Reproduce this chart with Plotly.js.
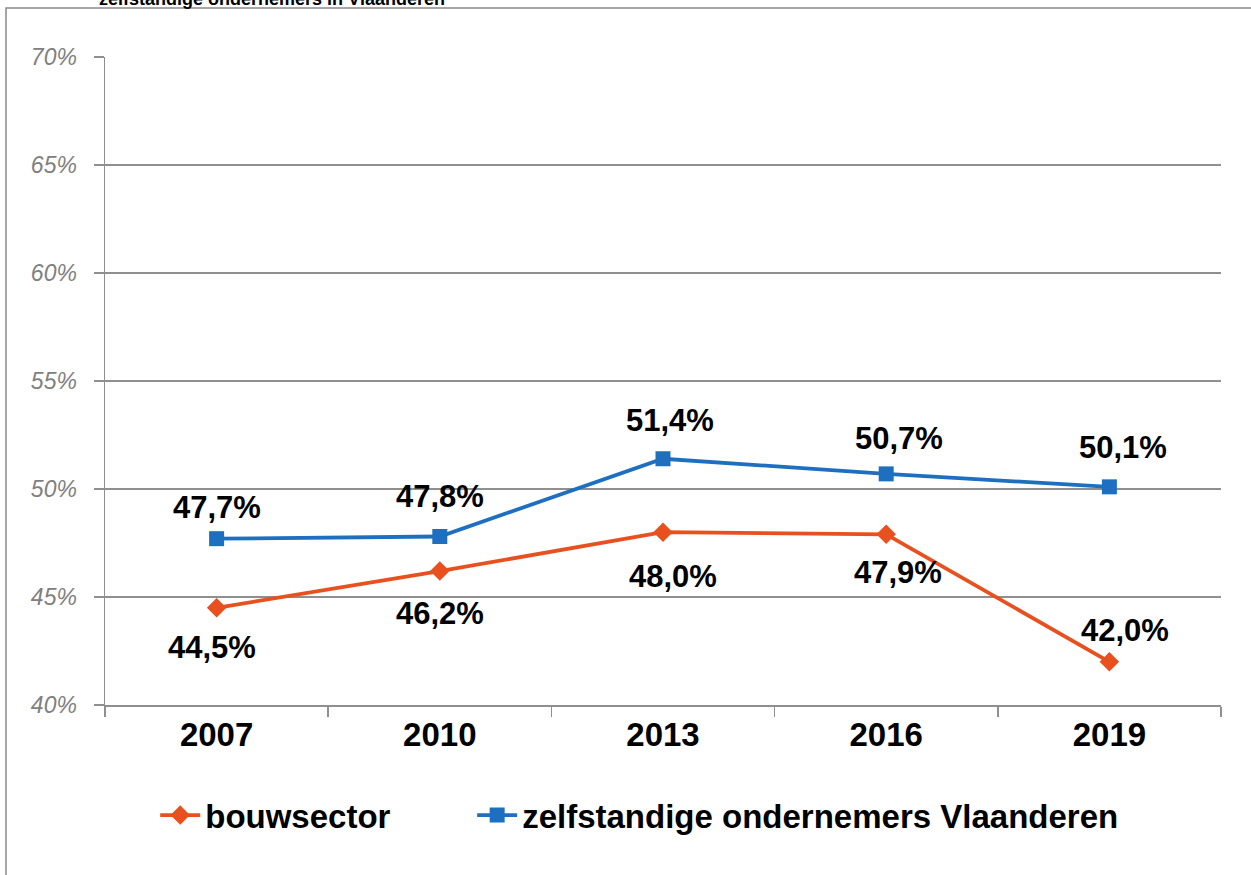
<!DOCTYPE html>
<html>
<head>
<meta charset="utf-8">
<script src="https://cdn.plot.ly/plotly-3.0.1.min.js"></script>
<style>html,body{margin:0;padding:0;background:#fff;}#chart{width:1251px;height:875px;}</style>
</head>
<body>
<div id="chart"></div>
<script>
// ---- data ----
var years = ['2007', '2010', '2013', '2016', '2019'];
var bouwsector = [44.5, 46.2, 48.0, 47.9, 42.0];
var zelfstandigen = [47.7, 47.8, 51.4, 50.7, 50.1];
var seriesNames = ['bouwsector', 'zelfstandige ondernemers Vlaanderen'];
var titleText = 'zelfstandige ondernemers in Vlaanderen';

// ---- styles ----
var orange = '#E8501F';
var blue = '#1F6FC0';
var gridGray = '#8f8f8f';
var fontFam = '"Liberation Sans", Arial, sans-serif';
var bouwShiftY = [-40, -42, -44, -38, 31];
var bouwShiftX = [-5, 0, 10, 12, 16];
var zelfShiftY = [31, 40, 38, 35, 39];
var zelfShiftX = [0, 0, 7, 13, 14];

function fmt(v) { return v.toFixed(1).replace('.', ',') + '%'; }

var traces = [
  {
    x: years, y: bouwsector, name: seriesNames[0], type: 'scatter', mode: 'lines+markers',
    line: {color: orange, width: 3.8},
    marker: {symbol: 'diamond', size: 15, color: orange},
    legend: 'legend',
    hoverinfo: 'skip'
  },
  {
    x: years, y: zelfstandigen, name: seriesNames[1], type: 'scatter', mode: 'lines+markers',
    line: {color: blue, width: 3.8},
    marker: {symbol: 'square', size: 15, color: blue},
    legend: 'legend2',
    hoverinfo: 'skip'
  }
];

var annotations = [];
years.forEach(function (yr, i) {
  annotations.push({x: i, y: bouwsector[i], xref: 'x', yref: 'y', text: fmt(bouwsector[i]),
    showarrow: false, xshift: bouwShiftX[i], yshift: bouwShiftY[i],
    font: {family: fontFam, size: 31, color: '#000', weight: 'bold'}});
  annotations.push({x: i, y: zelfstandigen[i], xref: 'x', yref: 'y', text: fmt(zelfstandigen[i]),
    showarrow: false, xshift: zelfShiftX[i], yshift: zelfShiftY[i],
    font: {family: fontFam, size: 31, color: '#000', weight: 'bold'}});
});
annotations.push({x: 0.15, y: 1.089, xref: 'paper', yref: 'paper', text: titleText,
  showarrow: false, xanchor: 'center', yanchor: 'middle',
  font: {family: fontFam, size: 18, color: '#000', weight: 'bold'}});

var legendFont = {family: fontFam, size: 33, color: '#000', weight: 'bold'};

var layout = {
  width: 1251, height: 875,
  margin: {l: 105, r: 30, t: 57, b: 170, pad: 0},
  paper_bgcolor: '#fff', plot_bgcolor: '#fff',
  showlegend: true,
  legend: {
    orientation: 'h', x: 0.045, xanchor: 'left', y: -0.17, yanchor: 'middle',
    font: legendFont, itemwidth: 40, bgcolor: 'rgba(0,0,0,0)'
  },
  legend2: {
    orientation: 'h', x: 0.329, xanchor: 'left', y: -0.17, yanchor: 'middle',
    font: legendFont, itemwidth: 40, bgcolor: 'rgba(0,0,0,0)'
  },
  xaxis: {
    type: 'category', categoryorder: 'array', categoryarray: years,
    range: [-0.5, years.length - 0.5], autorange: false,
    tickson: 'boundaries', ticks: 'outside', ticklen: 10,
    tickcolor: gridGray, tickwidth: 1.5, tickangle: 0,
    showline: true, linecolor: gridGray, linewidth: 1.5,
    showgrid: false, zeroline: false,
    tickfont: {family: fontFam, size: 33, color: '#000', weight: 'bold'},
    fixedrange: true
  },
  yaxis: {
    range: [40, 70], autorange: false, dtick: 5, tick0: 40, ticksuffix: '%',
    ticks: 'outside', ticklen: 10, tickcolor: gridGray, tickwidth: 1.5,
    showline: true, linecolor: gridGray, linewidth: 1.5,
    showgrid: true, gridcolor: gridGray, gridwidth: 1.3, zeroline: false,
    tickfont: {family: fontFam, size: 23, color: '#808080', style: 'italic'},
    ticklabelstandoff: 12,
    fixedrange: true
  },
  shapes: [
    {type: 'rect', xref: 'paper', yref: 'paper', x0: -0.0887, x1: 1.1, y0: -0.4, y1: 1.0756,
      line: {color: '#8a8a8a', width: 1.5}, fillcolor: 'rgba(0,0,0,0)', layer: 'below'}
  ],
  annotations: annotations
};

Plotly.newPlot('chart', traces, layout, {displayModeBar: false, staticPlot: true});
</script>
</body>
</html>
